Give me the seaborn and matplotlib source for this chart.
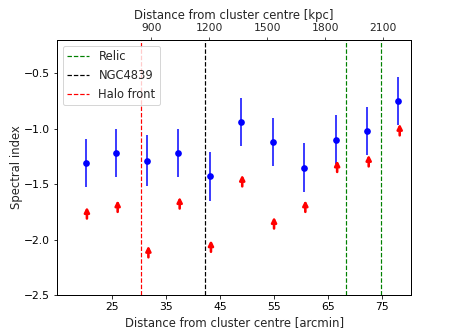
import matplotlib
matplotlib.use("Agg")
import matplotlib.pyplot as plt
import seaborn as sns

# === Data ===
dist_arcmin = [20.1, 25.8, 31.5, 37.3, 43.1, 48.9, 54.8, 60.6, 66.5, 72.35, 78.1]
spec_index = [-1.31, -1.22, -1.29, -1.22, -1.43, -0.94, -1.12, -1.35, -1.10, -1.02, -0.75]
spec_err = [0.22, 0.22, 0.23, 0.22, 0.22, 0.22, 0.22, 0.22, 0.22, 0.22, 0.22]

# lower limits (red arrows), slightly offset in x
limit_arcmin = [20.35, 26.05, 31.75, 37.55, 43.35, 49.15, 55.05, 60.85, 66.75, 72.6, 78.35]
limit_index = [-1.81, -1.75, -2.16, -1.72, -2.11, -1.52, -1.90, -1.75, -1.39, -1.34, -1.06]
arrow_len = 0.105

# vertical markers
relic_pos = [68.3, 74.8]
ngc4839_pos = 42.2
halo_front_pos = 30.4

kpc_per_arcmin = 27.9
kpc_ticks = [900, 1200, 1500, 1800, 2100]
arcmin_ticks = [25, 35, 45, 55, 65, 75]
index_ticks = [-2.5, -2.0, -1.5, -1.0, -0.5]

sns.set_style("ticks")
plt.rcParams["font.family"] = ["DejaVu Sans"]

fig = plt.figure(figsize=(457 / 72, 332 / 72), dpi=72)
ax = fig.add_axes([0.1247, 0.1114, 0.7753, 0.7681])

# === Vertical lines ===
ax.axvline(relic_pos[0], color="green", ls="--", lw=1.2, label="Relic")
ax.axvline(relic_pos[1], color="green", ls="--", lw=1.2)
ax.axvline(ngc4839_pos, color="black", ls="--", lw=1.2, label="NGC4839")
ax.axvline(halo_front_pos, color="red", ls="--", lw=1.2, label="Halo front")

# === Spectral index points ===
ax.errorbar(dist_arcmin, spec_index, yerr=spec_err, fmt="none",
            ecolor="blue", elinewidth=1.5)
sns.scatterplot(x=dist_arcmin, y=spec_index, color="blue", s=45,
                edgecolor="blue", linewidth=0, ax=ax, zorder=3)

# === Lower limits as arrows ===
for xa, ya in zip(limit_arcmin, limit_index):
    ax.annotate("", xy=(xa, ya + arrow_len), xytext=(xa, ya),
                arrowprops=dict(arrowstyle="-|>", color="red", lw=2.6,
                                mutation_scale=10, shrinkA=0, shrinkB=0))

ax.set_xlim(14.8, 80.5)
ax.set_ylim(-2.5, -0.2)
ax.set_xticks(arcmin_ticks)
ax.set_yticks(index_ticks)
ax.tick_params(labelsize=10.8, length=3.5, width=0.8, colors="black")
ax.set_xlabel("Distance from cluster centre [arcmin]", fontsize=11.6)
ax.set_ylabel("Spectral index", fontsize=11.6, labelpad=1)
for s in ax.spines.values():
    s.set_color("black")
    s.set_linewidth(1.0)

sec = ax.secondary_xaxis("top", functions=(lambda a: a * kpc_per_arcmin,
                                           lambda k: k / kpc_per_arcmin))
sec.set_xticks(kpc_ticks)
sec.tick_params(labelsize=10.8, length=3.5, width=0.8)
sec.set_xlabel("Distance from cluster centre [kpc]", fontsize=11.6)

ax.legend(loc="upper left", fontsize=11.5, handlelength=1.9, frameon=True)

fig.savefig("out.png", dpi=72)
